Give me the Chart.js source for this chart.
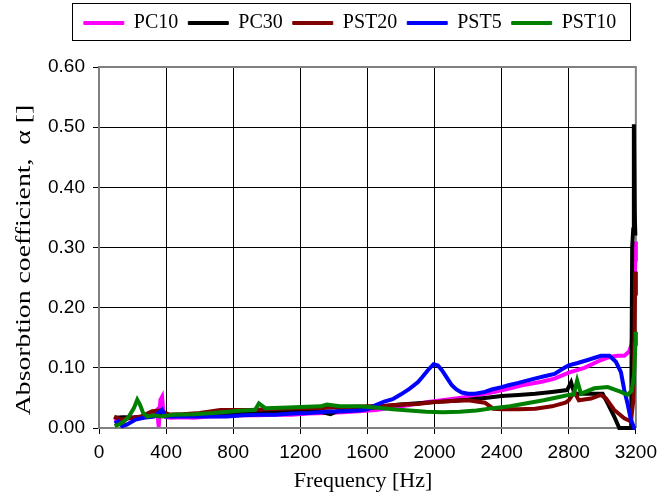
<!DOCTYPE html>
<html><head><meta charset="utf-8">
<script src="https://cdn.jsdelivr.net/npm/chart.js@4/dist/chart.umd.min.js"></script>
<style>html,body{margin:0;padding:0;background:#fff}canvas{display:block}</style>
</head><body>
<canvas id="c" width="664" height="498"></canvas>
<script>
// ---- data ----
const seriesNames = ['PC10', 'PC30', 'PST20', 'PST5', 'PST10'];
const xTickValues = [0, 400, 800, 1200, 1600, 2000, 2400, 2800, 3200];
const yTickValues = [0, 0.1, 0.2, 0.3, 0.4, 0.5, 0.6];
const xTitle = 'Frequency [Hz]';
const yTitle = 'Absorbtion coefficient,  \u03b1 []';

const pc10Freq  = [89,129,180,267,317,346,356,366,376,386,426,500,564,650,750,840,950,1050,1150,1250,1350,1450,1550,1650,1750,1850,1950,2044,2150,2242,2340,2440,2540,2638,2715,2800,2893,2992,3042,3091,3131,3160,3175,3185,3192,3197,3200];
const pc10Alpha = [0.014,0.017,0.017,0.019,0.022,0.030,0.002,0.047,0.052,0.019,0.017,0.018,0.017,0.019,0.020,0.021,0.021,0.022,0.022,0.024,0.025,0.026,0.028,0.030,0.034,0.038,0.043,0.046,0.050,0.054,0.059,0.065,0.072,0.077,0.082,0.092,0.100,0.113,0.118,0.120,0.120,0.127,0.140,0.180,0.240,0.280,0.310];

const pc30Freq  = [95,150,200,300,400,500,600,700,800,900,1000,1100,1200,1300,1380,1420,1500,1600,1700,1800,1900,2000,2100,2200,2300,2400,2500,2600,2700,2790,2814,2834,2900,3002,3032,3071,3101,3150,3172,3178,3184,3188,3193,3197];
const pc30Alpha = [0.017,0.018,0.017,0.020,0.022,0.022,0.023,0.024,0.025,0.026,0.027,0.027,0.028,0.028,0.023,0.028,0.030,0.033,0.036,0.039,0.041,0.043,0.045,0.047,0.050,0.053,0.055,0.057,0.060,0.063,0.076,0.057,0.057,0.057,0.041,0.019,0.000,0.000,0.000,0.300,0.330,0.505,0.360,0.320];

const pst20Freq  = [90,130,180,250,317,366,420,500,600,723,800,900,1000,1100,1200,1300,1400,1500,1600,1700,1800,1900,2000,2100,2200,2300,2350,2400,2500,2600,2700,2780,2800,2834,2860,2933,2992,3022,3071,3131,3170,3185,3192,3196,3200];
const pst20Alpha = [0.019,0.014,0.016,0.019,0.028,0.029,0.022,0.023,0.025,0.030,0.030,0.030,0.031,0.032,0.033,0.033,0.034,0.035,0.036,0.037,0.039,0.040,0.043,0.045,0.046,0.042,0.032,0.031,0.031,0.032,0.036,0.042,0.046,0.060,0.046,0.049,0.055,0.049,0.030,0.016,0.011,0.046,0.150,0.260,0.220];

const pst5Freq  = [93,115,139,168,218,267,327,376,396,450,550,650,762,860,950,1050,1150,1250,1350,1450,1550,1600,1650,1700,1750,1800,1850,1900,1925,1960,1994,2020,2044,2075,2103,2130,2162,2200,2242,2300,2341,2400,2440,2500,2539,2596,2655,2715,2774,2800,2853,2913,2992,3042,3081,3111,3131,3150,3170,3190,3200];
const pst5Alpha = [0.008,0.011,0.003,0.006,0.014,0.017,0.019,0.030,0.019,0.019,0.019,0.019,0.019,0.021,0.022,0.022,0.024,0.025,0.027,0.028,0.029,0.031,0.038,0.044,0.048,0.056,0.065,0.076,0.084,0.096,0.106,0.104,0.096,0.083,0.071,0.064,0.059,0.057,0.057,0.060,0.064,0.068,0.071,0.075,0.078,0.082,0.086,0.090,0.100,0.104,0.108,0.113,0.120,0.120,0.110,0.093,0.063,0.041,0.014,0.000,0.000];

const pst10Freq  = [93,119,149,178,208,228,244,263,287,327,366,446,564,683,802,861,930,953,991,1127,1320,1358,1436,1550,1650,1750,1850,1950,2050,2150,2250,2350,2450,2550,2650,2750,2800,2830,2850,2873,2952,3032,3111,3150,3175,3190,3197,3200];
const pst10Alpha = [0.003,0.006,0.011,0.019,0.033,0.047,0.039,0.025,0.019,0.021,0.019,0.022,0.023,0.025,0.028,0.029,0.030,0.041,0.033,0.034,0.036,0.039,0.036,0.036,0.034,0.031,0.029,0.027,0.026,0.027,0.029,0.033,0.036,0.041,0.046,0.052,0.055,0.056,0.079,0.057,0.066,0.068,0.060,0.055,0.062,0.090,0.140,0.160];

const seriesFreq  = [pc10Freq, pc30Freq, pst20Freq, pst5Freq, pst10Freq];
const seriesAlpha = [pc10Alpha, pc30Alpha, pst20Alpha, pst5Alpha, pst10Alpha];
const seriesColors = ['#FF00FF', '#000000', '#800000', '#0000FF', '#008000'];

// ---- build datasets ----
const datasets = seriesNames.map((name, i) => ({
  label: name,
  data: seriesFreq[i].map((f, j) => ({x: f, y: seriesAlpha[i][j]})),
  borderColor: seriesColors[i],
  backgroundColor: seriesColors[i],
  borderWidth: 4,
  pointRadius: 0,
  tension: 0,
  clip: 6,
  order: seriesNames.length - i
}));

const SERIF = '"Liberation Serif", "Times New Roman", serif';
const SANS = '"Liberation Sans", Arial, sans-serif';

const layoutFix = {
  id: 'layoutFix',
  beforeLayout(chart) {
    const lg = chart.legend;
    if (lg && !lg._fixed) {
      const orig = lg.fit.bind(lg);
      lg.fit = function () { orig(); this.height = 67; };
      lg._fixed = true;
    }
  },
  afterLayout(chart) {
    const lg = chart.legend;
    // centre the legend row over x = 350 and nudge it down a little
    lg.left = 59; lg.right = 641; lg.width = 582;
    lg.top = 3;
  },
  beforeDatasetsDraw(chart) {
    const {ctx, chartArea: a} = chart;
    ctx.save();
    ctx.strokeStyle = '#808080';
    ctx.lineWidth = 2;
    ctx.beginPath();
    ctx.moveTo(a.left, a.top); ctx.lineTo(a.right, a.top); ctx.lineTo(a.right, a.bottom);
    ctx.stroke();
    ctx.restore();
  },
  afterDraw(chart) {
    const {ctx} = chart;
    const lg = chart.legend;
    ctx.save();
    const pad = lg.options.labels.padding;
    const cw = lg.lineWidths[0] - pad;
    const cx = (lg.left + lg.right) / 2;
    ctx.strokeStyle = '#000';
    ctx.lineWidth = 1;
    ctx.strokeRect(Math.round(cx - cw / 2 - 12) + 0.5, 3.5, Math.round(cw + 26), 37);
    ctx.fillStyle = '#000';
    ctx.font = '22px ' + SERIF;
    ctx.textAlign = 'center';
    ctx.textBaseline = 'middle';
    ctx.fillText(xTitle, 363, 481);
    ctx.translate(24, 260);
    ctx.rotate(-Math.PI / 2);
    ctx.scale(1.26, 1);
    ctx.fillText(yTitle, 0, 0);
    ctx.restore();
  }
};

new Chart(document.getElementById('c'), {
  type: 'line',
  data: {datasets},
  options: {
    responsive: false,
    animation: false,
    devicePixelRatio: 1,
    layout: {padding: {left: 0, right: 23, top: 0, bottom: 0}},
    plugins: {
      legend: {
        position: 'top',
        labels: {
          font: {family: SERIF, size: 20},
          color: '#000',
          boxWidth: 40,
          boxHeight: 3,
          padding: 10,
          sort: (a, b) => a.datasetIndex - b.datasetIndex,
          generateLabels(chart) {
            return Chart.defaults.plugins.legend.labels.generateLabels(chart).map(it => {
              it.lineWidth = 1;
              it.fillStyle = it.strokeStyle;
              return it;
            });
          }
        }
      },
      tooltip: {enabled: false},
      title: {display: false}
    },
    scales: {
      x: {
        type: 'linear',
        min: 0, max: 3200,
        afterBuildTicks(s) { s.ticks = xTickValues.map(v => ({value: v})); },
        afterFit(s) { s.height = 70; },
        ticks: {font: {family: SANS, size: 19}, color: '#000', padding: 7, maxRotation: 0,
          callback: v => String(v)},
        grid: {color: '#000', lineWidth: 1, tickLength: 6, drawTicks: true},
        border: {color: '#808080', width: 2}
      },
      y: {
        type: 'linear',
        min: 0, max: 0.6,
        afterBuildTicks(s) { s.ticks = yTickValues.map(v => ({value: v})); },
        afterFit(s) { s.width = 99; },
        ticks: {font: {family: SANS, size: 19}, color: '#000', padding: 8,
          callback: v => Number(v).toFixed(2)},
        grid: {color: '#000', lineWidth: 1, tickLength: 6, drawTicks: true},
        border: {color: '#808080', width: 2}
      }
    }
  },
  plugins: [layoutFix]
});
</script>
</body></html>
